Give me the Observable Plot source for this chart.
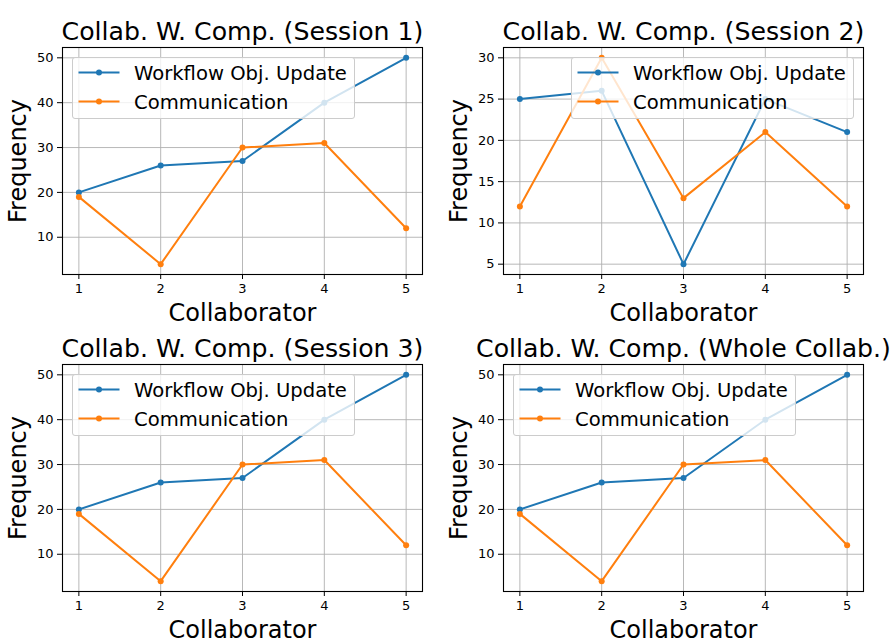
<!DOCTYPE html>
<html>
<head>
<meta charset="utf-8">
<script src="https://cdn.jsdelivr.net/npm/d3@7"></script>
<script src="https://cdn.jsdelivr.net/npm/@observablehq/plot@0.6"></script>
<style>
  html, body { margin: 0; padding: 0; background: white; }
  #fig { position: relative; width: 891px; height: 643px; overflow: hidden; font-family: "DejaVu Sans", sans-serif; }
  .panel { position: absolute; }
  .legend { position: absolute; width: 283px; height: 62px; box-sizing: border-box;
    border: 1px solid #cccccc; border-radius: 3px; background: rgba(255,255,255,0.8); }
</style>
</head>
<body>
<div id="fig"></div>
<script>
// ---- data ----
const collaborators = [1, 2, 3, 4, 5];
const seriesNames = ["Workflow Obj. Update", "Communication"];
const seriesColors = ["#1f77b4", "#ff7f0e"];
const titles = [
  "Collab. W. Comp. (Session 1)",
  "Collab. W. Comp. (Session 2)",
  "Collab. W. Comp. (Session 3)",
  "Collab. W. Comp. (Whole Collab.)"
];
const workflowS1 = [20, 26, 27, 40, 50];
const commS1     = [19, 4, 30, 31, 12];
const workflowS2 = [25, 26, 5, 25, 21];
const commS2     = [12, 30, 13, 21, 12];
const workflowS3 = [20, 26, 27, 40, 50];
const commS3     = [19, 4, 30, 31, 12];
const workflowAll = [20, 26, 27, 40, 50];
const commAll     = [19, 4, 30, 31, 12];
const yTicksA = [10, 20, 30, 40, 50];
const yTicksB = [5, 10, 15, 20, 25, 30];
const xLabel = "Collaborator";
const yLabel = "Frequency";

// ---- layout ----
const panels = [
  {title: titles[0], wf: workflowS1, cm: commS1, yTicks: yTicksA, left: 0,   top: 0,   h: 320, mt: 47, mb: 46, legend: "left"},
  {title: titles[1], wf: workflowS2, cm: commS2, yTicks: yTicksB, left: 441, top: 0,   h: 320, mt: 47, mb: 46, legend: "right"},
  {title: titles[2], wf: workflowS3, cm: commS3, yTicks: yTicksA, left: 0,   top: 320, h: 323, mt: 44, mb: 52, legend: "left"},
  {title: titles[3], wf: workflowAll, cm: commAll, yTicks: yTicksA, left: 441, top: 320, h: 323, mt: 44, mb: 52, legend: "left"}
];
const W = 445, ML = 62, MR = 23;
const fig = document.getElementById("fig");
const grid = {stroke: "#b0b0b0", strokeOpacity: 1, strokeWidth: 0.9};

function legendBox() {
  const ns = "http://www.w3.org/2000/svg";
  const svg = document.createElementNS(ns, "svg");
  svg.setAttribute("width", 281); svg.setAttribute("height", 60);
  svg.style.display = "block";
  seriesNames.forEach((name, i) => {
    const y = 14.5 + i * 29;
    const line = document.createElementNS(ns, "line");
    line.setAttribute("x1", 5.5); line.setAttribute("x2", 46.5);
    line.setAttribute("y1", y); line.setAttribute("y2", y);
    line.setAttribute("stroke", seriesColors[i]); line.setAttribute("stroke-width", 2);
    svg.appendChild(line);
    const c = document.createElementNS(ns, "circle");
    c.setAttribute("cx", 26); c.setAttribute("cy", y); c.setAttribute("r", 3);
    c.setAttribute("fill", seriesColors[i]);
    svg.appendChild(c);
    const t = document.createElementNS(ns, "text");
    t.setAttribute("x", 61); t.setAttribute("y", y + 7);
    t.setAttribute("font-size", 19.6); t.setAttribute("font-family", "DejaVu Sans");
    t.setAttribute("fill", "black");
    t.textContent = name;
    svg.appendChild(t);
  });
  return svg;
}

panels.forEach(p => {
  const data = [];
  collaborators.forEach((c, i) => {
    data.push({x: c, y: p.wf[i], s: seriesNames[0]});
  });
  collaborators.forEach((c, i) => {
    data.push({x: c, y: p.cm[i], s: seriesNames[1]});
  });
  const [lo, hi] = d3.extent(data, d => d.y);
  const pad = (hi - lo) * 0.05;
  const chart = Plot.plot({
    width: W, height: p.h,
    marginLeft: ML, marginRight: MR, marginTop: p.mt, marginBottom: p.mb,
    style: {fontFamily: "DejaVu Sans", overflow: "visible", background: "transparent", color: "black"},
    x: {domain: [0.8, 5.2]},
    y: {domain: [lo - pad, hi + pad]},
    color: {domain: seriesNames, range: seriesColors},
    marks: [
      Plot.gridX(collaborators, grid),
      Plot.gridY(p.yTicks, grid),
      Plot.line(data.filter(d => d.s === seriesNames[0]), {x: "x", y: "y", stroke: "s", strokeWidth: 2}),
      Plot.dot(data.filter(d => d.s === seriesNames[0]), {x: "x", y: "y", fill: "s", r: 3}),
      Plot.line(data.filter(d => d.s === seriesNames[1]), {x: "x", y: "y", stroke: "s", strokeWidth: 2}),
      Plot.dot(data.filter(d => d.s === seriesNames[1]), {x: "x", y: "y", fill: "s", r: 3}),
      Plot.frame({stroke: "black", strokeWidth: 1.1}),
      Plot.axisX(collaborators, {tickSize: 5, tickPadding: 4, fontSize: 13, label: null, stroke: "black"}),
      Plot.axisY(p.yTicks, {tickSize: 5, tickPadding: 4, fontSize: 13, label: null, stroke: "black"}),
      Plot.text([p.title], {frameAnchor: "top", dy: -8, lineAnchor: "bottom", textAnchor: "middle", fontSize: 25.2, text: d => d, fill: "black"}),
      Plot.text([xLabel], {frameAnchor: "bottom", dy: 46, lineAnchor: "bottom", textAnchor: "middle", fontSize: 24, text: d => d, fill: "black"}),
      Plot.text([yLabel], {frameAnchor: "left", dx: -37, rotate: -90, lineAnchor: "bottom", textAnchor: "middle", fontSize: 24, text: d => d, fill: "black"})
    ]
  });
  const wrap = document.createElement("div");
  wrap.className = "panel";
  wrap.style.left = p.left + "px";
  wrap.style.top = p.top + "px";
  wrap.style.width = W + "px";
  wrap.style.height = p.h + "px";
  wrap.appendChild(chart);
  const lg = document.createElement("div");
  lg.className = "legend";
  lg.style.top = (p.mt + 10) + "px";
  if (p.legend === "left") lg.style.left = (ML + 10) + "px";
  else lg.style.left = (W - MR - 9 - 283) + "px";
  lg.appendChild(legendBox());
  wrap.appendChild(lg);
  fig.appendChild(wrap);
});
</script>
</body>
</html>
